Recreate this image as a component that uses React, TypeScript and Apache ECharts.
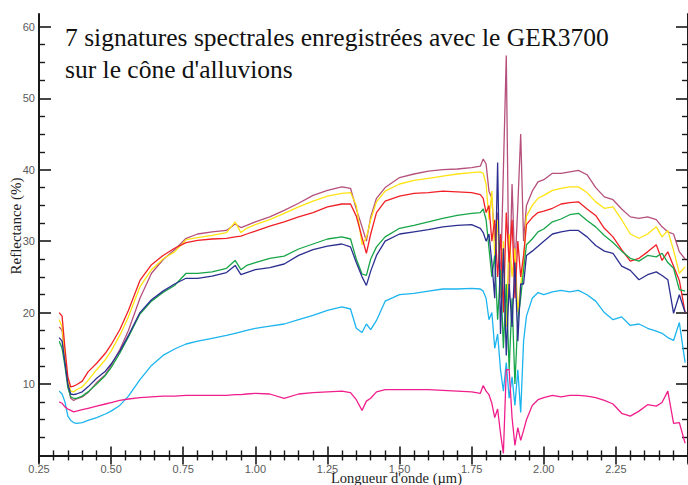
import { useEffect, useRef } from "react";
import * as echarts from "echarts";

const wavelength = [
  0.32, 0.33, 0.34, 0.35, 0.36, 0.37, 0.38, 0.40, 0.42, 0.45, 0.48, 0.50, 0.53, 0.56, 0.60, 0.64, 0.68, 0.72, 0.76, 0.80, 0.85, 0.90,
  0.93, 0.95, 0.97, 1.00, 1.05, 1.10, 1.15, 1.20, 1.25, 1.30, 1.33, 1.35, 1.37, 1.385, 1.40, 1.42, 1.45, 1.50, 1.55, 1.60, 1.65, 1.70, 1.75,
  1.78, 1.79, 1.80, 1.81, 1.82, 1.83, 1.84, 1.85, 1.86, 1.87, 1.88, 1.89, 1.90, 1.91, 1.92, 1.93, 1.94,
  1.96, 1.98, 2.00, 2.03, 2.06, 2.09, 2.12, 2.15, 2.18, 2.21, 2.24, 2.27, 2.30, 2.33, 2.36, 2.39, 2.41, 2.43, 2.45, 2.47, 2.49,
];

const mauve = [
  18.0, 17.5, 14.0, 10.0, 8.0, 7.7, 7.9, 8.2, 8.8, 10.2, 11.3, 12.6, 14.8, 17.5, 22.0, 25.5, 27.4, 28.8, 30.4, 31.0, 31.3, 31.5,
  32.4, 31.9, 32.2, 32.7, 33.4, 34.3, 35.3, 36.4, 37.1, 37.6, 37.4, 34.5, 32.0, 30.0, 33.4, 36.0, 37.5, 38.9, 39.4, 39.8, 40.0, 40.1, 40.3,
  40.5, 41.5, 40.8, 37, 36, 30, 34, 24, 40, 56, 22, 38, 26, 35, 45, 30, 35,
  37.0, 38.3, 38.6, 39.5, 39.5, 39.7, 39.9, 39.3, 37.5, 36.2, 35.8, 34.5, 33.4, 33.2, 33.4, 33.0, 32.0, 31.3, 31.0, 28.5, 27.5,
];

const yellow = [
  19.0, 18.0, 14.0, 10.5, 9.0, 8.9, 9.2, 9.6, 10.5, 12.0, 13.4, 14.6, 16.8, 19.4, 23.6, 26.0, 27.5, 28.5, 30.2, 30.5, 30.8, 31.2,
  32.7, 31.2, 31.8, 32.3, 33.0, 33.9, 34.8, 35.6, 36.3, 36.7, 36.8, 35.0, 29.5, 30.5, 33.0, 35.5, 37.0, 38.0, 38.5, 38.8, 39.1, 39.4, 39.6,
  39.7, 39.5, 38, 33, 37, 28, 33, 22, 30, 18, 31, 25, 29, 20, 24, 27, 33.5,
  35.0, 36.0, 36.4, 37.1, 37.4, 37.6, 37.6, 36.8, 35.5, 34.6, 34.8, 33.0, 31.0, 30.4, 31.0, 32.0, 30.6, 31.5, 28.7, 25.5, 26.4,
];

const red = [
  20.0, 19.5, 15.0, 11.0, 9.6, 9.7, 9.9, 10.4, 11.7, 12.9, 14.3, 15.5, 17.6, 20.3, 24.5, 26.7, 28.0, 29.0, 29.8, 30.1, 30.3, 30.4,
  30.6, 30.7, 31.0, 31.4, 32.1, 32.7, 33.4, 34.0, 34.8, 35.2, 35.2, 33.5, 30.5, 28.3, 31.0, 34.0, 35.6, 36.3, 36.7, 36.8, 37.0, 36.9, 36.8,
  36.5, 36.0, 34, 35, 30, 33, 25, 31, 20, 34, 27, 33, 22, 30, 25, 28, 32.3,
  33.3, 34.0, 34.2, 34.6, 35.2, 35.4, 35.5, 34.5, 33.6, 31.8, 30.6, 28.8, 27.2, 27.6, 28.5, 29.5, 27.3, 28.5, 26.5, 24.5, 20.0,
];

const green = [
  16.0, 15.0, 12.5, 9.5, 8.2, 8.0, 8.0, 8.3, 8.9, 10.0, 11.2, 12.3, 14.3, 16.6, 19.8, 21.6, 22.8, 23.8, 25.5, 25.5, 25.7, 26.2,
  27.3, 26.0, 26.6, 27.0, 27.6, 27.9, 28.9, 29.6, 30.3, 30.6, 30.3, 27.5, 25.4, 25.2, 27.5, 29.2, 30.6, 31.8, 32.2, 32.7, 33.2, 33.6, 33.9,
  34.0, 34.5, 33, 29, 25, 28, 19, 26, 15, 24, 12, 22, 10, 19, 22, 26, 29.5,
  30.3, 31.3, 31.7, 32.7, 33.1, 33.7, 33.9, 32.9, 32.0, 30.8, 29.8, 28.6, 27.6, 27.2, 28.0, 27.8, 28.3, 27.0, 26.2, 23.2, 23.0,
];

const blue = [
  16.5, 16.0, 13.0, 10.0, 8.6, 8.5, 8.6, 8.9, 9.6, 10.8, 11.8, 12.8, 14.6, 16.8, 20.0, 21.8, 23.0, 24.0, 24.8, 24.8, 25.1, 25.6,
  26.6, 25.3, 25.6, 26.0, 26.3, 26.8, 28.0, 28.8, 29.3, 29.6, 29.2, 27.0, 25.0, 23.8, 25.8, 28.0, 30.0, 31.0, 31.3, 31.6, 32.0, 32.2, 32.3,
  31.8, 31.2, 30, 31, 27, 22, 41, 17, 29, 14, 24, 18, 27, 16, 24, 24, 28,
  28.6, 29.3, 30.0, 31.0, 31.3, 31.5, 31.5, 30.6, 29.4, 28.6, 28.3, 26.5, 25.9, 24.6, 25.3, 25.7, 25.2, 24.6, 19.9, 22.5, 20.0,
];

const cyan = [
  9.0, 8.6, 7.5, 5.5, 4.9, 4.6, 4.5, 4.6, 4.9, 5.3, 5.8, 6.2, 7.0, 8.3, 10.6, 12.6, 14.0, 14.9, 15.6, 16.0, 16.4, 16.8,
  17.1, 17.3, 17.5, 17.8, 18.1, 18.4, 19.0, 19.6, 20.3, 20.8, 20.5, 17.8, 17.2, 18.4, 17.6, 18.9, 21.6, 22.5, 22.7, 23.0, 23.3, 23.3, 23.4,
  23.3, 23.0, 22, 19, 20, 15, 17, 12, 9, 13, 8, 11, 7, 12, 6, 16, 19.5,
  22.0, 22.8, 22.5, 22.9, 23.1, 22.9, 23.1, 22.5, 21.6, 20.0, 19.0, 19.4, 18.2, 18.4, 17.8, 17.4, 17.1, 16.5, 16.1, 18.6, 13.0,
];

const pink = [
  7.5, 7.3, 6.8, 6.5, 6.3, 6.1, 6.2, 6.4, 6.6, 6.9, 7.2, 7.4, 7.7, 7.9, 8.1, 8.2, 8.3, 8.3, 8.4, 8.4, 8.4, 8.4,
  8.5, 8.5, 8.6, 8.7, 8.6, 8.0, 8.6, 8.8, 8.9, 9.0, 8.8, 7.8, 6.3, 7.6, 8.0, 8.9, 9.2, 9.2, 9.2, 9.2, 9.1, 9.0, 8.9,
  8.7, 9.8, 9.0, 8.5, 7.3, 5.3, 6.5, 3.1, 0.3, 12, 12, 5.3, 1.4, 3.9, 2.1, 3.5, 5.0,
  7.0, 7.8, 8.1, 8.4, 8.2, 8.4, 8.4, 8.3, 8.1, 7.7, 7.2, 5.9, 5.5, 6.2, 7.1, 6.9, 7.4, 9.0, 4.5, 4.6, 1.7,
];

const seriesNames = ["mauve", "jaune", "rouge", "vert", "bleu", "cyan", "rose"];
const seriesColors = ["#b5507c", "#ffe414", "#f02026", "#18a548", "#2c2f90", "#1cb4ee", "#f01e8c"];
const seriesValues = [mauve, yellow, red, green, blue, cyan, pink];

const yMajorTicks = [10, 20, 30, 40, 50, 60];
const yMinorTicks = [2.5, 5, 7.5, 12.5, 15, 17.5, 22.5, 25, 27.5, 32.5, 35, 37.5, 42.5, 45, 47.5, 52.5, 55, 57.5];

const titleText = "7 signatures spectrales enregistrées avec le GER3700\nsur le cône d'alluvions";
const xName = "Longueur d'onde (µm)";
const yName = "Reflectance (%)";

export default function App() {
  const ref = useRef<HTMLDivElement>(null);
  useEffect(() => {
    const chart = echarts.init(ref.current!, null, { renderer: "svg" });
    const axisColor = "#1a1a1a";
    const labelStyle = { color: "#5a5a5a", fontSize: 11, fontFamily: "Liberation Sans, Arial, sans-serif" };
    const yCommon = {
      type: "value",
      min: -0.92,
      max: 61.8,
      splitLine: { show: false },
    };
    const xCommon = {
      type: "value",
      min: 0.25,
      max: 2.5,
      interval: 0.25,
      splitLine: { show: false },
      axisLine: { show: true, lineStyle: { color: axisColor, width: 2 } },
      axisTick: { show: true, inside: true, length: 9, lineStyle: { color: axisColor, width: 1.6 } },
      minorTick: { show: true, splitNumber: 5, length: 5, lineStyle: { color: axisColor, width: 1.4 } },
      minorSplitLine: { show: false },
    };
    chart.setOption({
      animation: false,
      backgroundColor: "#ffffff",
      grid: { left: 39, right: 0, top: 14, bottom: 23, containLabel: false },
      xAxis: [
        {
          ...xCommon,
          position: "bottom",
          axisLabel: {
            ...labelStyle,
            margin: 1,
            showMaxLabel: false,
            formatter: (v: number) => v.toFixed(2),
          },
        },
        {
          ...xCommon,
          position: "top",
          axisLabel: { show: false },
        },
      ],
      yAxis: [
        {
          ...yCommon,
          position: "left",
          axisLine: { show: true, lineStyle: { color: axisColor, width: 2 } },
          axisTick: { show: true, inside: true, length: 12, customValues: yMajorTicks, lineStyle: { color: axisColor, width: 1.6 } },
          axisLabel: { ...labelStyle, margin: 4, customValues: yMajorTicks, formatter: (v: number) => String(Math.round(v)) },
        },
        {
          ...yCommon,
          position: "left",
          axisLine: { show: false },
          axisTick: { show: true, inside: true, length: 6, customValues: yMinorTicks, lineStyle: { color: axisColor, width: 1.4 } },
          axisLabel: { show: false, customValues: yMinorTicks },
        },
        {
          ...yCommon,
          position: "right",
          axisLine: { show: true, lineStyle: { color: axisColor, width: 2 } },
          axisTick: { show: true, inside: true, length: 12, customValues: yMajorTicks, lineStyle: { color: axisColor, width: 1.6 } },
          axisLabel: { show: false, customValues: yMajorTicks },
        },
        {
          ...yCommon,
          position: "right",
          axisLine: { show: false },
          axisTick: { show: true, inside: true, length: 6, customValues: yMinorTicks, lineStyle: { color: axisColor, width: 1.4 } },
          axisLabel: { show: false, customValues: yMinorTicks },
        },
      ],
      series: seriesValues.map((vals, k) => ({
        name: seriesNames[k],
        type: "line",
        xAxisIndex: 0,
        yAxisIndex: 0,
        showSymbol: false,
        symbol: "none",
        silent: true,
        lineStyle: { color: seriesColors[k], width: 1.3 },
        itemStyle: { color: seriesColors[k] },
        data: wavelength.map((w, i) => [w, vals[i]]),
      })),
      graphic: [
        {
          type: "text",
          left: 65,
          top: 21,
          style: {
            text: titleText,
            font: "25.5px 'Liberation Serif', 'Times New Roman', serif",
            fill: "#111111",
            lineHeight: 32,
          },
        },
        {
          type: "text",
          left: 331,
          top: 470,
          style: {
            text: xName,
            font: "14.5px 'Liberation Serif', 'Times New Roman', serif",
            fill: "#222222",
          },
        },
        {
          type: "text",
          x: 16,
          y: 226,
          rotation: Math.PI / 2,
          style: {
            text: yName,
            font: "15px 'Liberation Serif', 'Times New Roman', serif",
            fill: "#222222",
            align: "center",
            verticalAlign: "middle",
          },
        },
      ],
    });
    return () => chart.dispose();
  }, []);
  return <div ref={ref} style={{ position: "absolute", left: 0, top: 0, width: 688, height: 485 }} />;
}
